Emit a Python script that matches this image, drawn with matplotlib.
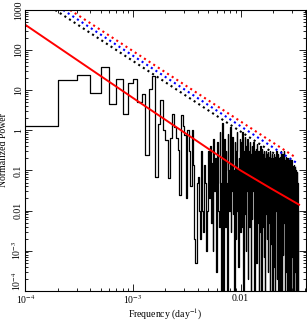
import matplotlib
matplotlib.use("Agg")
import matplotlib.pyplot as plt
import numpy as np
from matplotlib.ticker import FixedLocator, FixedFormatter, LogLocator, NullFormatter

plt.rcParams['font.family'] = ['Liberation Serif', 'DejaVu Serif']
plt.rcParams['mathtext.fontset'] = 'stix'

# periodogram, frequency grid step (day^-1)
df = 1e-4
power = [
    # n = 1 .. 27
    1.3, 18, 24, 8.7, 37, 4.6, 18.5, 2.6, 15, 19,
    5, 8, 0.24, 10.5, 23, 0.07, 1.4, 5.6, 1.0, 0.56,
    0.063, 0.65, 2.6, 1.2, 0.65, 0.32, 0.024,
    # n = 28 .. 100
    2.4, 1.3, 0.75, 0.02, 1.0, 0.3, 0.04, 1.0, 0.14, 0.002,
    0.0005, 0.05, 0.07, 0.01, 0.002, 0.3, 0.01, 0.003, 0.14, 0.05,
    0.001, 0.01, 0.3, 0.02, 0.4, 0.005, 0.15, 0.001, 0.6, 0.03,
    0.2, 0.0003, 0.08, 0.5, 0.01, 0.004, 0.9, 0.05, 0.00005, 1.5,
    0.2, 0.00005, 0.6, 0.02, 0.004, 0.3, 0.05, 0.00005, 0.8, 0.1,
    0.01, 0.4, 1.2, 0.003, 0.2, 0.03, 0.7, 0.008, 0.1, 0.00005,
    0.5, 0.04, 0.002, 0.3, 0.9, 0.01, 0.1, 0.0004, 0.2, 0.05,
    0.6, 0.003, 0.08,
    # n = 101 .. 345
    0.5, 0.02, 0.004, 0.9, 0.1, 0.00005, 0.3, 0.05, 0.7, 0.008,
    0.15, 0.001, 0.4, 0.03, 0.2, 0.6, 0.0002, 0.06, 0.3, 0.01,
    0.004, 0.5, 0.08, 0.02, 0.00005, 0.25, 0.4, 0.006, 0.1, 0.03,
    0.5, 0.002, 0.15, 0.00006, 0.3, 0.04, 0.01, 0.35, 0.07, 0.0005,
    0.2, 0.45, 0.02, 0.005, 0.12, 0.3, 0.0001, 0.06, 0.25, 0.015,
    0.003, 0.2, 0.4, 0.03, 0.08, 0.00005, 0.15, 0.35, 0.01, 0.05,
    0.25, 0.004, 0.1, 0.3, 0.0007, 0.05, 0.2, 0.02, 0.00005, 0.15,
    0.3, 0.008, 0.07, 0.25, 0.03, 0.002, 0.18, 0.05, 0.28, 0.0003,
    0.1, 0.02, 0.22, 0.005, 0.06, 0.3, 0.00005, 0.12, 0.04, 0.2,
    0.01, 0.15, 0.0015, 0.25, 0.07, 0.03, 0.18, 0.00008, 0.09, 0.2,
    0.005, 0.14, 0.04, 0.25, 0.0004, 0.1, 0.18, 0.02, 0.06, 0.00005,
    0.22, 0.08, 0.01, 0.15, 0.3, 0.003, 0.05, 0.2, 0.0002, 0.12,
    0.04, 0.25, 0.007, 0.1, 0.00005, 0.18, 0.06, 0.015, 0.2, 0.09,
    0.002, 0.15, 0.05, 0.22, 0.0001, 0.08, 0.3, 0.02, 0.12, 0.004,
    0.18, 0.06, 0.00005, 0.14, 0.25, 0.01, 0.07, 0.16, 0.0008, 0.1,
    0.2, 0.03, 0.12, 0.005, 0.3, 0.06, 0.00005, 0.15, 0.08, 0.02,
    0.18, 0.002, 0.1, 0.22, 0.04, 0.0003, 0.13, 0.06, 0.2, 0.01,
    0.08, 0.16, 0.00005, 0.12, 0.04, 0.2, 0.006, 0.09, 0.15, 0.03,
    0.0015, 0.18, 0.07, 0.11, 0.00006, 0.14, 0.05, 0.2, 0.01, 0.1,
    0.16, 0.003, 0.08, 0.13, 0.00005, 0.06, 0.18, 0.02, 0.1, 0.0007,
    0.12, 0.05, 0.15, 0.008, 0.09, 0.00005, 0.13, 0.04, 0.1, 0.002,
    0.14, 0.06, 0.00008, 0.11, 0.03, 0.12, 0.005, 0.08, 0.1, 0.0003,
    0.07, 0.12, 0.02, 0.09, 0.00005, 0.1, 0.04, 0.06, 0.001, 0.08,
    0.05, 0.09, 0.00005, 0.07, 0.02, 0.06, 0.003, 0.05, 0.04, 0.0001,
    0.03, 0.05, 0.00005, 0.02, 0.01,
]

# red-noise model
model_freq = [1e-4, 1e-3, 1e-2, 0.019, 0.035]
model_power = [424, 6.4, 0.1, 0.036, 0.014]

# significance levels (black, blue, red)
lev_freq = [[1.89e-4, 0.0326], [2.24e-4, 0.034], [2.6e-4, 0.0326]]
lev_power = [[1000, 0.117], [1000, 0.148], [1000, 0.21]]
lev_colors = ['black', 'blue', 'red']

xticks = [1e-4, 1e-3, 1e-2]
xtick_labels = ['10$^{-4}$', '10$^{-3}$', '0.01']
yticks = [1e-4, 1e-3, 1e-2, 0.1, 1, 10, 100, 1000]
ytick_labels = ['10$^{-4}$', '10$^{-3}$', '0.01', '0.1', '1', '10', '100', '1000']


fig = plt.figure(figsize=(3.07, 3.22), dpi=100)
ax = fig.add_axes([0.083, 0.097, 0.913, 0.872])

freq = df * np.arange(1, len(power) + 1)
ax.step(freq, power, where='post', color='black', lw=0.9)
ax.plot(model_freq, model_power, color='red', lw=1.4)
for fx, py, c in zip(lev_freq, lev_power, lev_colors):
    ax.plot(fx, py, color=c, lw=1.5, linestyle=':')

ax.set_xscale('log')
ax.set_yscale('log')
ax.set_xlim(1e-4, 0.0404)
ax.set_ylim(1e-4, 1000)

ax.xaxis.set_major_locator(FixedLocator(xticks))
ax.xaxis.set_major_formatter(FixedFormatter(xtick_labels))
ax.yaxis.set_major_locator(FixedLocator(yticks))
ax.yaxis.set_major_formatter(FixedFormatter(ytick_labels))
ax.xaxis.set_minor_locator(LogLocator(base=10, subs=np.arange(2, 10), numticks=20))
ax.yaxis.set_minor_locator(LogLocator(base=10, subs=np.arange(2, 10), numticks=20))
ax.xaxis.set_minor_formatter(NullFormatter())
ax.yaxis.set_minor_formatter(NullFormatter())

ax.tick_params(which='both', direction='in', top=True, right=True, labelsize=7, width=0.6)
ax.tick_params(which='major', length=5)
ax.tick_params(which='minor', length=2.5)
ax.tick_params(axis='y', pad=2)
ax.tick_params(axis='x', pad=2)
fig.canvas.draw()
ylabs = ax.get_yticklabels()
for lab in ylabs:
    lab.set_rotation(90)
    lab.set_va('center')
ylabs[0].set_va('bottom')
for s in ax.spines.values():
    s.set_linewidth(0.8)

ax.set_xlabel('Frequency (day$^{-1}$)', fontsize=7, labelpad=0)
ax.set_ylabel('Normalized Power', fontsize=7, labelpad=1)

fig.savefig('out.png', dpi=100)
